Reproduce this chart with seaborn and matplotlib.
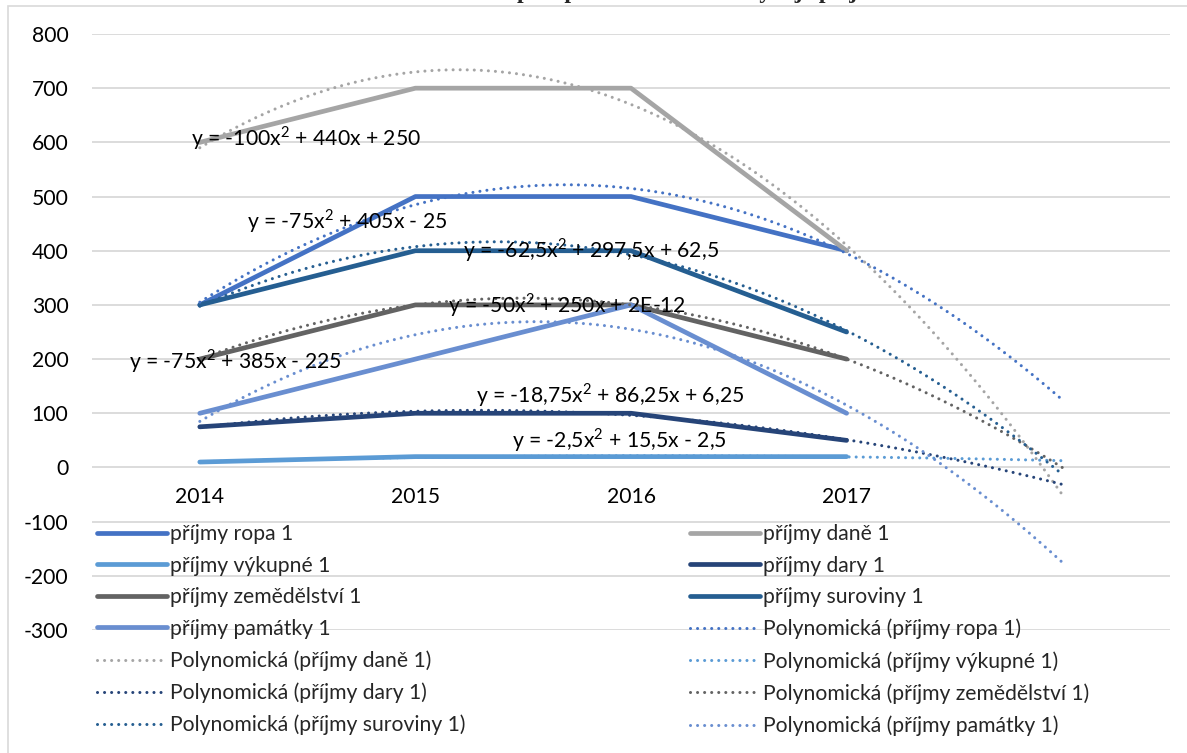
import numpy as np
import pandas as pd
import matplotlib
matplotlib.use("Agg")
import matplotlib.pyplot as plt
import seaborn as sns
from matplotlib.lines import Line2D
from matplotlib.patches import Rectangle

# ---------------- data ----------------
years = ["2014", "2015", "2016", "2017"]
series_names = ["příjmy ropa 1", "příjmy daně 1", "příjmy výkupné 1", "příjmy dary 1",
                "příjmy zemědělství 1", "příjmy suroviny 1", "příjmy památky 1"]
ropa = [300, 500, 500, 400]
dane = [600, 700, 700, 400]
vykupne = [10, 20, 20, 20]
dary = [75, 100, 100, 50]
zemedelstvi = [200, 300, 300, 200]
suroviny = [300, 400, 400, 250]
pamatky = [100, 200, 300, 100]
equations = ["y = -75x$^2$ + 405x - 25", "y = -100x$^2$ + 440x + 250",
             "y = -2,5x$^2$ + 15,5x - 2,5", "y = -18,75x$^2$ + 86,25x + 6,25",
             "y = -50x$^2$ + 250x + 2E-12", "y = -62,5x$^2$ + 297,5x + 62,5",
             "y = -75x$^2$ + 385x - 225"]
title_text = "Graf 7: Trendová předpověď budoucího vývoje příjmů"

values = [ropa, dane, vykupne, dary, zemedelstvi, suroviny, pamatky]
colors = ["#4472C4", "#A5A5A5", "#5B9BD5", "#264478", "#636363", "#255E91", "#698ED0"]
# label anchor (left edge, vertical centre) in data coords
eq_pos = [(0.22, 454), (-0.04, 608), (1.45, 50), (1.28, 133), (1.15, 299), (1.22, 401), (-0.33, 196)]

# ---------------- figure ----------------
sns.set_theme(style="white")
plt.rcParams["font.family"] = ["Lato", "DejaVu Sans"]
plt.rcParams["mathtext.fontset"] = "custom"
plt.rcParams["mathtext.rm"] = "Lato"
plt.rcParams["axes.unicode_minus"] = False
FS = 15.2

W, H = 1187, 753
fig = plt.figure(figsize=(W / 100, H / 100), dpi=100)
ax = fig.add_axes([92 / W, 1 - 630 / H, (1170 - 92) / W, (630 - 34) / H])

df = pd.DataFrame({
    "pos": np.tile(np.arange(len(years)), len(series_names)),
    "value": np.concatenate(values),
    "series": np.repeat(series_names, len(years)),
})

LW = 3.4
sns.lineplot(data=df, x="pos", y="value", hue="series", palette=dict(zip(series_names, colors)),
             linewidth=LW, ax=ax, legend=False, solid_capstyle="round", solid_joinstyle="round")

# polynomial (order 2) trendlines, forecast 1 period forward
DLW = 2.2
dot_style = (0, (0.01, 2.3))
xs_excel = np.arange(1, len(years) + 1)
grid = np.linspace(1, len(years) + 1, 300)
for name, vals, col in zip(series_names, values, colors):
    coef = np.polyfit(xs_excel, vals, 2)
    sns.lineplot(x=grid - 1, y=np.polyval(coef, grid), ax=ax, color=col, linewidth=DLW,
                 linestyle=dot_style, dash_capstyle="round")

for eq, (px, py) in zip(equations, eq_pos):
    ax.text(px, py, eq, ha="left", va="center", fontsize=FS, color="black", zorder=10)

ax.set_xlim(-0.5, 4.5)
ax.set_ylim(-300, 800)
ax.set_yticks(np.arange(-300, 801, 100))
ax.set_xticks(range(len(years)))
ax.set_xticklabels(years)
ax.set_xlabel("")
ax.set_ylabel("")
ax.grid(axis="y", color="#D9D9D9", linewidth=1.3)
ax.grid(axis="x", visible=False)
ax.set_axisbelow(True)
for s in ["top", "right", "left"]:
    ax.spines[s].set_visible(False)
ax.spines["bottom"].set_position(("data", 0))
ax.spines["bottom"].set_edgecolor("none")
ax.tick_params(axis="x", length=0, pad=14, labelsize=FS, colors="black")
ax.tick_params(axis="y", length=0, pad=17, labelsize=FS, colors="black")
ax.patch.set_alpha(0)

# legend (two columns, filled row-wise like Excel)
handles = [Line2D([], [], color=c, lw=LW, solid_capstyle="round") for c in colors]
labels = list(series_names)
for name, col in zip(series_names, colors):
    handles.append(Line2D([], [], color=col, lw=DLW, linestyle=dot_style, dash_capstyle="round"))
    labels.append(f"Polynomická ({name})")
col1 = [(h, l) for i, (h, l) in enumerate(zip(handles, labels)) if i % 2 == 0]
col2 = [(h, l) for i, (h, l) in enumerate(zip(handles, labels)) if i % 2 == 1]
leg_kw = dict(loc="upper left", frameon=False, fontsize=FS, handlelength=3.3, handletextpad=0.15,
              labelspacing=0.55, borderpad=0, borderaxespad=0)
leg1 = fig.legend([h for h, _ in col1], [l for _, l in col1],
                  bbox_to_anchor=(97 / W, 1 - 524 / H), **leg_kw)
leg2 = fig.legend([h for h, _ in col2], [l for _, l in col2],
                  bbox_to_anchor=(690 / W, 1 - 524 / H), **leg_kw)

# chart-area border
fig.patches.append(Rectangle((8 / W, -0.02), 1.0, 1 - 6 / H + 0.02, transform=fig.transFigure,
                             fill=False, edgecolor="#D9D9D9", linewidth=1.2))

# title (mostly cut off at the top like the reference)
fig.text(613 / W, 1 + 2 / H, title_text, ha="center", va="baseline", fontsize=17,
         fontweight="bold", family=["Liberation Serif", "DejaVu Serif"])

fig.savefig("out.png", dpi=100)
